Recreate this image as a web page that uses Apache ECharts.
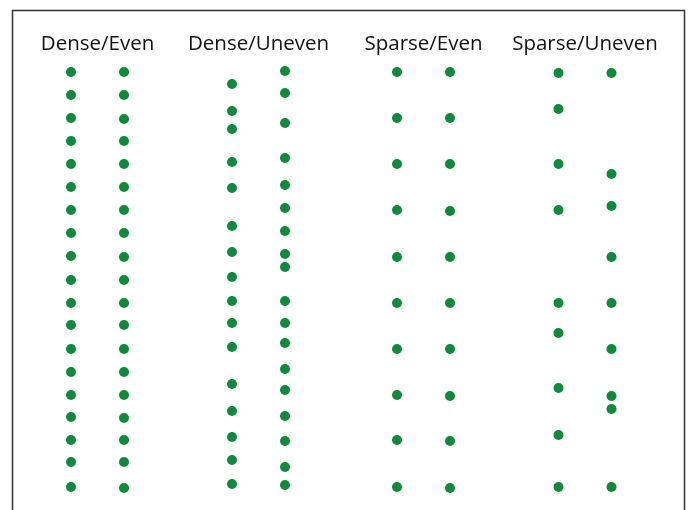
<!DOCTYPE html>
<html>
<head>
<meta charset="utf-8">
<script src="https://cdn.jsdelivr.net/npm/echarts@6/dist/echarts.min.js"></script>
<style>
  html, body { margin: 0; padding: 0; background: #fff; }
  #chart { width: 691px; height: 510px; }
</style>
</head>
<body>
<div id="chart"></div>
<script>
// panel titles, two columns of dots in each
const groupNames = ['Dense/Even', 'Dense/Uneven', 'Sparse/Even', 'Sparse/Uneven'];
const columns = ['left', 'right'];

// dot positions, measured down from the top of the page
const denseEvenLeft = [72, 95, 118, 141, 164, 187, 210, 233, 256, 280, 303, 325, 349, 372, 395, 417, 440, 462, 487];
const denseEvenRight = [72, 95, 119, 141, 164, 187, 210, 233, 257, 280, 303, 325, 349, 372, 395, 418, 440, 462, 488];
const denseUnevenLeft = [84, 111, 129, 162, 188, 226, 252, 277, 301, 323, 347, 384, 411, 437, 460, 484];
const denseUnevenRight = [71, 93, 123, 158, 185, 208, 231, 254, 267, 301, 323, 343, 369, 390, 416, 441, 467, 485];
const sparseEvenLeft = [72, 118, 164, 210, 257, 303, 349, 395, 440, 487];
const sparseEvenRight = [72, 118, 164, 211, 257, 303, 349, 396, 441, 488];
const sparseUnevenLeft = [73, 109, 164, 210, 303, 333, 388, 435, 487];
const sparseUnevenRight = [73, 174, 206, 257, 303, 349, 396, 409, 487];

const groupData = [
  [denseEvenLeft, denseEvenRight],
  [denseUnevenLeft, denseUnevenRight],
  [sparseEvenLeft, sparseEvenRight],
  [sparseUnevenLeft, sparseUnevenRight]
];

const gridLefts = [44.5, 205.5, 370.5, 532];
const gridWidth = 106;

const chart = echarts.init(document.getElementById('chart'));

const grids = [], xAxes = [], yAxes = [], series = [];
groupNames.forEach((name, g) => {
  grids.push({ left: gridLefts[g], width: gridWidth, top: 60, bottom: 10 });
  xAxes.push({
    type: 'category',
    gridIndex: g,
    data: columns,
    position: 'top',
    name: name,
    nameLocation: 'middle',
    nameGap: 5,
    nameTextStyle: { fontFamily: 'Open Sans', fontSize: 20.5, color: '#111' },
    axisLine: { show: false },
    axisTick: { show: false },
    axisLabel: { show: false },
    splitLine: { show: false }
  });
  yAxes.push({
    type: 'value',
    gridIndex: g,
    inverse: true,
    min: 60,
    max: 500,
    show: false
  });
  groupData[g].forEach((vals, c) => {
    series.push({
      type: 'scatter',
      xAxisIndex: g,
      yAxisIndex: g,
      symbolSize: 10,
      itemStyle: { color: '#0f8a3c', opacity: 1 },
      silent: true,
      data: vals.map(v => [columns[c], v])
    });
  });
});

chart.setOption({
  animation: false,
  grid: grids,
  xAxis: xAxes,
  yAxis: yAxes,
  series: series,
  graphic: [{
    type: 'rect',
    shape: { x: 12.5, y: 10.5, width: 672, height: 520 },
    style: { fill: 'none', stroke: '#333', lineWidth: 1.5 },
    silent: true
  }]
});
</script>
</body>
</html>
